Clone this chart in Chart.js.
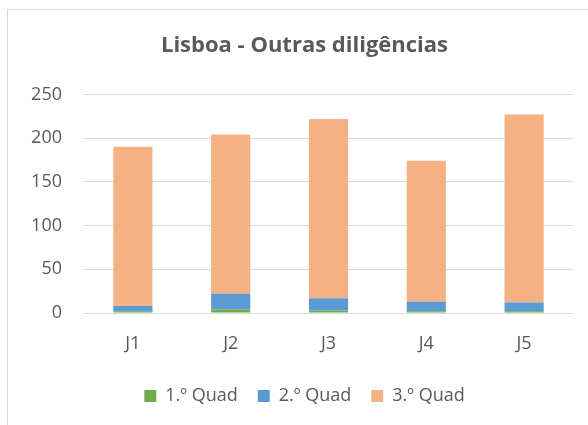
<!DOCTYPE html>
<html>
<head>
<meta charset="utf-8">
<script src="https://cdn.jsdelivr.net/npm/chart.js@4"></script>
<style>
  html, body { margin: 0; padding: 0; background: #fff; overflow: hidden; }
  #frame { position: absolute; left: 7px; top: 9px; width: 620px; height: 460px; border: 1px solid #d9d9d9; }
  #wrap { position: absolute; left: 0; top: 0; width: 588px; height: 425px; }
</style>
</head>
<body>
<div id="frame"></div>
<div id="wrap"><canvas id="chart" width="588" height="425"></canvas></div>
<script>
const categories = ['J1', 'J2', 'J3', 'J4', 'J5'];
const quad1 = [2, 4, 3, 2, 2];
const quad2 = [6, 18, 14, 11, 10];
const quad3 = [182, 182, 205, 161, 215];
const yTicks = [0, 50, 100, 150, 200, 250];

const textColor = '#595959';
const font = 'Open Sans';

// the original centres title and legend a bit right of the canvas middle
const shiftBlocks = {
  id: 'shiftBlocks',
  afterLayout(chart) {
    if (chart.titleBlock) chart.titleBlock.left = 36;
    if (chart.legend) chart.legend.left = 36;
  }
};

new Chart(document.getElementById('chart'), {
  type: 'bar',
  data: {
    labels: categories,
    datasets: [
      { label: '1.º Quad', data: quad1, backgroundColor: '#70ad47' },
      { label: '2.º Quad', data: quad2, backgroundColor: '#5b9bd5' },
      { label: '3.º Quad', data: quad3, backgroundColor: '#f4b183' }
    ]
  },
  options: {
    responsive: false,
    animation: false,
    layout: { padding: { top: 0, right: 15, bottom: 10, left: 0 } },
    datasets: { bar: { categoryPercentage: 1, barPercentage: 0.4, borderWidth: 0 } },
    plugins: {
      title: {
        display: true,
        text: 'Lisboa - Outras diligências',
        color: textColor,
        font: { family: font, size: 22, weight: 'bold' },
        padding: { top: 33, bottom: 35 }
      },
      legend: {
        position: 'bottom',
        labels: {
          color: textColor,
          font: { family: font, size: 18 },
          boxWidth: 12,
          boxHeight: 12,
          padding: 20
        }
      },
      tooltip: { enabled: false }
    },
    scales: {
      x: {
        stacked: true,
        grid: { display: false, drawTicks: false },
        border: { display: false },
        ticks: { color: textColor, font: { family: font, size: 18 }, padding: 20 },
        afterFit: (s) => { s.height = 54; }
      },
      y: {
        stacked: true,
        min: 0,
        max: 250,
        afterBuildTicks: (s) => { s.ticks = yTicks.map((v) => ({ value: v })); },
        grid: { color: '#d9d9d9', drawTicks: false },
        border: { display: false },
        ticks: { color: textColor, font: { family: font, size: 18 }, padding: 22 },
        afterFit: (s) => { s.width = 84; }
      }
    }
  },
  plugins: [shiftBlocks]
});
</script>
</body>
</html>
